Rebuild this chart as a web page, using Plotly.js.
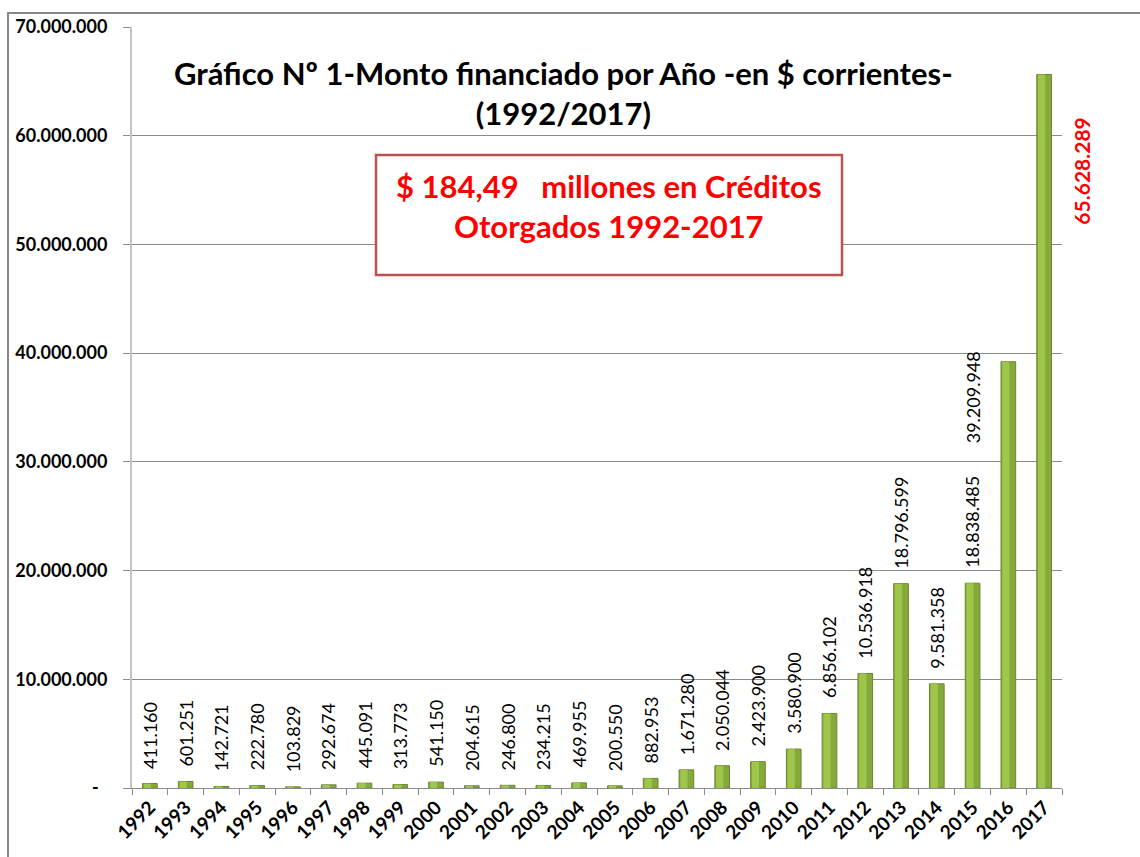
<!DOCTYPE html>
<html>
<head>
<meta charset="utf-8">
<script src="https://cdn.plot.ly/plotly-3.0.1.min.js"></script>
<style>html,body{margin:0;padding:0;background:#fff;}#chart{width:1140px;height:857px;}</style>
</head>
<body>
<div id="chart"></div>
<script>
const categories = ['1992','1993','1994','1995','1996','1997','1998','1999','2000','2001','2002','2003','2004','2005','2006','2007','2008','2009','2010','2011','2012','2013','2014','2015','2016','2017'];
const montos = [411160,601251,142721,222780,103829,292674,445091,313773,541150,204615,246800,234215,469955,200550,882953,1671280,2050044,2423900,3580900,6856102,10536918,18796599,9581358,18838485,39209948,65628289];
const yTickVals = [0,10000000,20000000,30000000,40000000,50000000,60000000,70000000];
const yTickText = ['-\u00a0\u00a0','10.000.000','20.000.000','30.000.000','40.000.000','50.000.000','60.000.000','70.000.000'];
const titleLines = ['Gráfico Nº 1-Monto financiado por Año -en $ corrientes-','(1992/2017)'];
const boxLines = ['$ 184,49\u00a0\u00a0\u00a0millones en Créditos','Otorgados 1992-2017'];

function fmt(n){ return String(n).replace(/\B(?=(\d{3})+(?!\d))/g,'.'); }

const FONT = 'Lato, "Open Sans", sans-serif';

const barBase = {
  type:'bar', x:categories, y:montos, width:0.41, offset:-0.205,
  marker:{color:'#86aa3a', line:{color:'#6a8530', width:1}},
  hoverinfo:'skip'
};
const barLight = {
  type:'bar', x:categories, y:montos, width:0.2, offset:-0.17,
  marker:{color:'#9fc64b', line:{width:0}},
  hoverinfo:'skip'
};

const annotations = [];
const n = categories.length;
for (let i = 0; i < n - 2; i++) {
  annotations.push({
    x:i, y:montos[i], xref:'x', yref:'y', text:fmt(montos[i]),
    textangle:-90, showarrow:false, xanchor:'center', yanchor:'bottom', yshift:13,
    font:{family:FONT, size:18, color:'#000'}
  });
}
// 2016 label, drawn in the 2015 column in the reference
annotations.push({
  x:n-3, y:montos[n-2], xref:'x', yref:'y', text:fmt(montos[n-2]),
  textangle:-90, showarrow:false, xanchor:'center', yanchor:'top', yshift:12,
  font:{family:FONT, size:18, color:'#000'}
});
// 2017 label, red, to the right of the bar
annotations.push({
  x:n-1, y:montos[n-1], xref:'x', yref:'y', text:fmt(montos[n-1]),
  textangle:-90, showarrow:false, xanchor:'left', yanchor:'top', xshift:22, yshift:-41,
  font:{family:FONT, size:21, color:'#ff0000', weight:'bold'}
});
// Title
annotations.push({
  x:(563-132)/930, y:(788-93)/761, xref:'paper', yref:'paper', text:titleLines.join('<br>'),
  showarrow:false, xanchor:'center', yanchor:'middle',
  font:{family:FONT, size:31, color:'#000', weight:'bold'}
});
// Red box text
annotations.push({
  x:(609-132)/930, y:(788-206)/761, xref:'paper', yref:'paper', text:boxLines.join('<br>'),
  showarrow:false, xanchor:'center', yanchor:'middle',
  font:{family:FONT, size:31, color:'#ff0000', weight:'bold'}
});

const layout = {
  width:1140, height:857,
  margin:{l:132, r:78, t:27, b:69},
  paper_bgcolor:'#fff', plot_bgcolor:'#fff',
  showlegend:false, barmode:'overlay',
  xaxis:{
    type:'category', range:[-0.5, n-0.5], autorange:false,
    tickson:'boundaries', ticks:'outside', ticklen:6, tickcolor:'#8c8c8c',
    tickangle:-45, showline:true, linecolor:'#8c8c8c', linewidth:1, showgrid:false,
    tickfont:{family:FONT, size:19, color:'#000', weight:'bold'}
  },
  yaxis:{
    range:[0,70000000], autorange:false, tickmode:'array', tickvals:yTickVals, ticktext:yTickText,
    ticks:'outside', ticklen:7, tickcolor:'#8c8c8c', showgrid:true, gridcolor:'#8c8c8c', gridwidth:1,
    showline:true, linecolor:'#c4c4c4', linewidth:2, zeroline:false, ticklabelstandoff:12,
    tickfont:{family:FONT, size:18, color:'#000', weight:'bold'}
  },
  shapes:[
    {type:'rect', xref:'paper', yref:'paper', x0:-0.1333, x1:1.3, y0:-0.2, y1:(788-13)/761,
     line:{color:'#888', width:2}, fillcolor:'rgba(0,0,0,0)', layer:'above'},
    {type:'rect', xref:'paper', yref:'paper', x0:(376-132)/930, x1:(842-132)/930, y0:(788-275)/761, y1:(788-155)/761,
     line:{color:'#c0504d', width:2.5}, fillcolor:'#fff', layer:'above'}
  ],
  annotations:annotations
};

Plotly.newPlot('chart', [barBase, barLight], layout, {displayModeBar:false, staticPlot:true});
</script>
</body>
</html>
